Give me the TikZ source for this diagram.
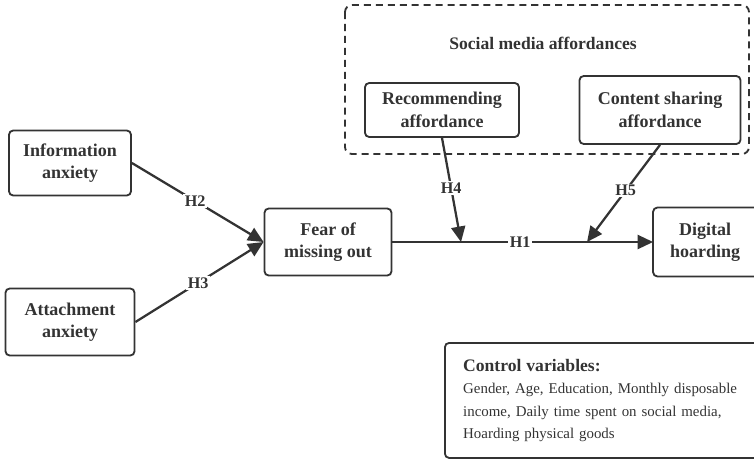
\documentclass[tikz,border=0pt]{standalone}
\usepackage{fontspec}
\setmainfont{Liberation Serif}
\usetikzlibrary{positioning,arrows.meta}
\definecolor{inkgray}{RGB}{51,51,51}

\begin{document}
\begin{tikzpicture}[x=0.025cm,y=-0.025cm,
          var/.style={draw=inkgray,text=inkgray,line width=1.3pt,rounded corners=3pt,
            font=\fontsize{12.8}{16}\selectfont\bfseries,align=center,inner sep=2pt},
          hyp/.style={fill=white,text=inkgray,font=\fontsize{11.5}{13}\selectfont\bfseries,
            inner sep=1pt},
          path/.style={draw=inkgray,line width=1.6pt,-{Triangle[length=11pt,width=10pt]}}]

        \useasboundingbox (0,0) rectangle (754,459);

        \draw[inkgray,line width=1.3pt,dash pattern=on 5pt off 3.5pt,rounded corners=5pt]
          (345,5) rectangle (749,154);
        \node[text=inkgray,font=\fontsize{12.5}{14.5}\selectfont\bfseries] (sma) at (543,43)
          {Social media affordances};

        \node[var,minimum width=3.85cm,minimum height=1.35cm] (rec) at (442,110)
          {Recommending\\affordance};
        \node[var,minimum width=4.025cm,minimum height=1.7cm] (share) at (660,110)
          {Content sharing\\affordance};

        \node[var,minimum width=3.05cm,minimum height=1.625cm] (info) at (70,163)
          {Information\\anxiety};
        \node[var,minimum width=3.225cm,minimum height=1.675cm] (attach) at (70,322)
          {Attachment\\anxiety};
        \node[var,minimum width=3.175cm,minimum height=1.675cm] (fomo) at (328,242)
          {Fear of\\missing out};
        \node[var,draw=none,minimum width=2.55cm,minimum height=1.675cm] (dh) at (705,242)
          {Digital\\hoarding};
        \draw[inkgray,line width=1.3pt,rounded corners=3pt]
          (dh.north west) rectangle ([xshift=0.6cm]dh.south east);

        \node[draw=inkgray,line width=1.3pt,rounded corners=3pt,text=inkgray,
          minimum width=8.15cm,minimum height=2.875cm,anchor=north west,
          align=left,text width=7.6cm,inner xsep=13pt,
          font=\fontsize{10.6}{15.8}\selectfont] (ctrl) at (444,342)
          {{\fontsize{12.5}{19}\selectfont\bfseries Control variables:}\\
           Gender, Age, Education, Monthly disposable\\
           income, Daily time spent on social media,\\
           Hoarding physical goods};

        \coordinate (m4) at (461,242);
        \coordinate (m5) at (587,242);

        \draw[path] (info.east) -- node[hyp,pos=0.48] {H2} (fomo.west);
        \draw[path] (attach.east) -- node[hyp,pos=0.49] {H3} (fomo.west);
        \draw[path] (fomo.east) -- node[hyp,pos=0.49] {H1} (dh.west);
        \draw[path] (rec.south) -- node[hyp,pos=0.48] {H4} (m4);
        \draw[path] (share.south) -- node[hyp,pos=0.47] {H5} (m5);
      \end{tikzpicture}
\end{document}
